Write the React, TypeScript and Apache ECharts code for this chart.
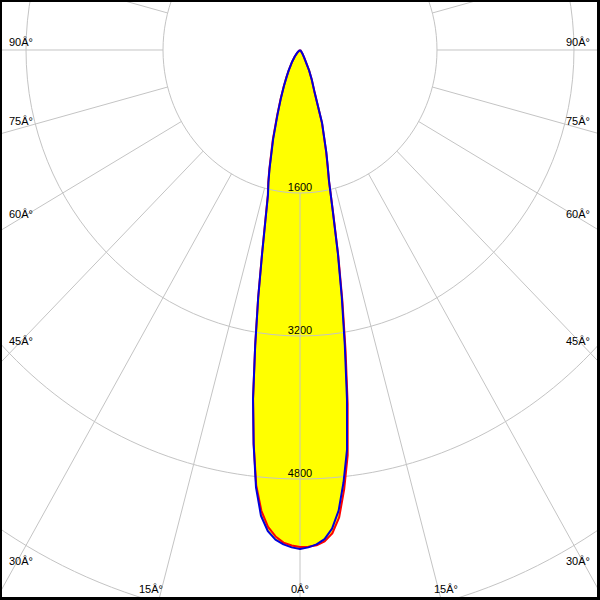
import React, { useEffect, useRef } from 'react';
import * as echarts from 'echarts';

// gamma angles (degrees from nadir)
const angles = [0, 1, 2, 3, 4, 5, 6, 7, 8, 9, 10, 11, 12, 13, 14, 15, 17.5, 20, 22.5, 25, 27.5, 30, 35, 40, 45, 50, 60, 70, 80, 90];
// luminous intensity (cd) - blue curve
const blueLeft = [5583, 5566, 5535, 5485, 5395, 5231, 4919, 4444, 3942, 3345, 2812, 2318, 1936, 1662, 1524, 1374, 1042, 769, 583, 444, 339, 264, 160, 95, 50, 25, 8, 0, 0, 0];
const blueRight = [5583, 5566, 5535, 5480, 5368, 5174, 4863, 4506, 3942, 3345, 2812, 2318, 1842, 1510, 1338, 1190, 860, 490, 360, 250, 140, 95, 50, 25, 12, 5, 0, 0, 0, 0];
// luminous intensity (cd) - red curve
const redLeft = [5560, 5545, 5515, 5450, 5350, 5175, 4895, 4440, 3940, 3345, 2815, 2325, 1945, 1670, 1535, 1385, 1058, 780, 590, 448, 342, 266, 160, 95, 50, 25, 8, 0, 0, 0];
const redRight = [5560, 5560, 5545, 5505, 5420, 5250, 4940, 4570, 4000, 3400, 2850, 2340, 1855, 1505, 1330, 1180, 850, 485, 356, 248, 140, 95, 50, 25, 12, 5, 0, 0, 0, 0];

const ringValues = [1600, 3200, 4800, 6400, 8000];
const ringLabels = ['1600', '3200', '4800'];
const spokeAngles = Array.from({ length: 24 }, (_, i) => i * 15);
const spokeEnd = 9000;
const angleLabels = ['90Â°', '75Â°', '60Â°', '45Â°', '30Â°', '15Â°', '0Â°', '15Â°', '30Â°', '45Â°', '60Â°', '75Â°', '90Â°'];

// layout of angle labels in pixels [x, y, align]
const angleLabelPos: [number, number, string][] = [
  [9, 42, 'left'], [9, 121, 'left'], [9, 214, 'left'], [9, 341, 'left'], [9, 561, 'left'], [139, 589, 'left'],
  [291, 589, 'left'],
  [434, 589, 'left'], [566, 561, 'left'], [566, 341, 'left'], [566, 214, 'left'], [566, 121, 'left'], [566, 42, 'left'],
];

const X_MIN = -3504;
const X_MAX = 3504;
const Y_MIN = -559.4;
const Y_MAX = 6153.8;

const rad = (d: number) => (d * Math.PI) / 180;
const toXY = (a: number, v: number, side: number): [number, number] => [side * v * Math.sin(rad(a)), v * Math.cos(rad(a))];

function curve(left: number[], right: number[]): [number, number][] {
  const pts: [number, number][] = [];
  for (let i = angles.length - 1; i >= 0; i--) pts.push(toXY(angles[i], left[i], -1));
  for (let i = 1; i < angles.length; i++) pts.push(toXY(angles[i], right[i], 1));
  return pts;
}

const FONT = '11px "Liberation Sans", Arial, sans-serif';

export default function App() {
  const ref = useRef<HTMLDivElement>(null);
  useEffect(() => {
    if (!ref.current) return;
    const chart = echarts.init(ref.current, null, { renderer: 'svg' });
    const blue = curve(blueLeft, blueRight);
    const red = curve(redLeft, redRight);

    const option: any = {
      animation: false,
      backgroundColor: '#ffffff',
      grid: { left: 0, right: 0, top: 0, bottom: 0, containLabel: false },
      xAxis: { type: 'value', min: X_MIN, max: X_MAX, show: false },
      yAxis: { type: 'value', min: Y_MIN, max: Y_MAX, inverse: true, show: false },
      series: [
        {
          type: 'custom',
          coordinateSystem: 'cartesian2d',
          silent: true,
          z: 1,
          data: [[0, 0]],
          renderItem: (_p: any, api: any) => ({
            type: 'group',
            children: [red, blue].map((c) => ({
              type: 'polygon',
              shape: { points: c.map((p) => api.coord(p)) },
              style: { fill: '#ffff00', stroke: 'none' },
            })),
          }),
        },
        {
          type: 'custom',
          coordinateSystem: 'cartesian2d',
          silent: true,
          z: 2,
          data: ringLabels.map((_, i) => [0, ringValues[i]]),
          renderItem: (params: any, api: any) => {
            const i = params.dataIndex;
            const p = api.coord([0, ringValues[i]]);
            return {
              type: 'text',
              x: p[0],
              y: p[1] - 6,
              style: {
                text: ringLabels[i],
                font: FONT,
                fill: '#000000',
                align: 'center',
                verticalAlign: 'middle',
                textAlign: 'center',
                textVerticalAlign: 'middle',
              },
            };
          },
        },
        {
          type: 'custom',
          coordinateSystem: 'cartesian2d',
          silent: true,
          z: 3,
          data: [[0, 0]],
          renderItem: (_p: any, api: any) => {
            const c = api.coord([0, 0]);
            const children: any[] = [];
            ringValues.forEach((r) => {
              const px = api.coord([r, 0])[0] - c[0];
              const py = api.coord([0, r])[1] - c[1];
              children.push({
                type: 'ellipse',
                shape: { cx: c[0], cy: c[1], rx: px, ry: py },
                style: { fill: 'none', stroke: '#c4c4c4', lineWidth: 1 },
              });
            });
            spokeAngles.forEach((a) => {
              const p1 = api.coord(toXY(a, ringValues[0], 1));
              const p2 = api.coord(toXY(a, spokeEnd, 1));
              children.push({
                type: 'line',
                shape: { x1: p1[0], y1: p1[1], x2: p2[0], y2: p2[1] },
                style: { stroke: '#c4c4c4', lineWidth: 1 },
              });
            });
            return { type: 'group', children };
          },
        },
        {
          type: 'line',
          data: red,
          symbol: 'none',
          showSymbol: false,
          silent: true,
          z: 4,
          lineStyle: { color: '#ff0000', width: 2 },
        },
        {
          type: 'line',
          data: blue,
          symbol: 'none',
          showSymbol: false,
          silent: true,
          z: 5,
          lineStyle: { color: '#0000dd', width: 2 },
        },
      ],
      graphic: [
        ...angleLabels.map((t, i) => ({
          type: 'text',
          x: angleLabelPos[i][0],
          y: angleLabelPos[i][1],
          z: 10,
          silent: true,
          style: {
            text: t,
            font: FONT,
            fill: '#000000',
            align: angleLabelPos[i][2],
            verticalAlign: 'middle',
            textAlign: angleLabelPos[i][2],
            textVerticalAlign: 'middle',
          },
        })),
        { type: 'rect', shape: { x: 0, y: 0, width: 2, height: 600 }, style: { fill: '#000' }, z: 20, silent: true },
        { type: 'rect', shape: { x: 0, y: 0, width: 600, height: 2 }, style: { fill: '#000' }, z: 20, silent: true },
        { type: 'rect', shape: { x: 597, y: 0, width: 3, height: 600 }, style: { fill: '#000' }, z: 20, silent: true },
        { type: 'rect', shape: { x: 0, y: 597, width: 600, height: 3 }, style: { fill: '#000' }, z: 20, silent: true },
      ],
    };
    chart.setOption(option);
    return () => chart.dispose();
  }, []);
  return (
    <div
      ref={ref}
      style={{ position: 'fixed', left: 0, top: 0, width: 600, height: 600, background: '#fff' }}
    />
  );
}
